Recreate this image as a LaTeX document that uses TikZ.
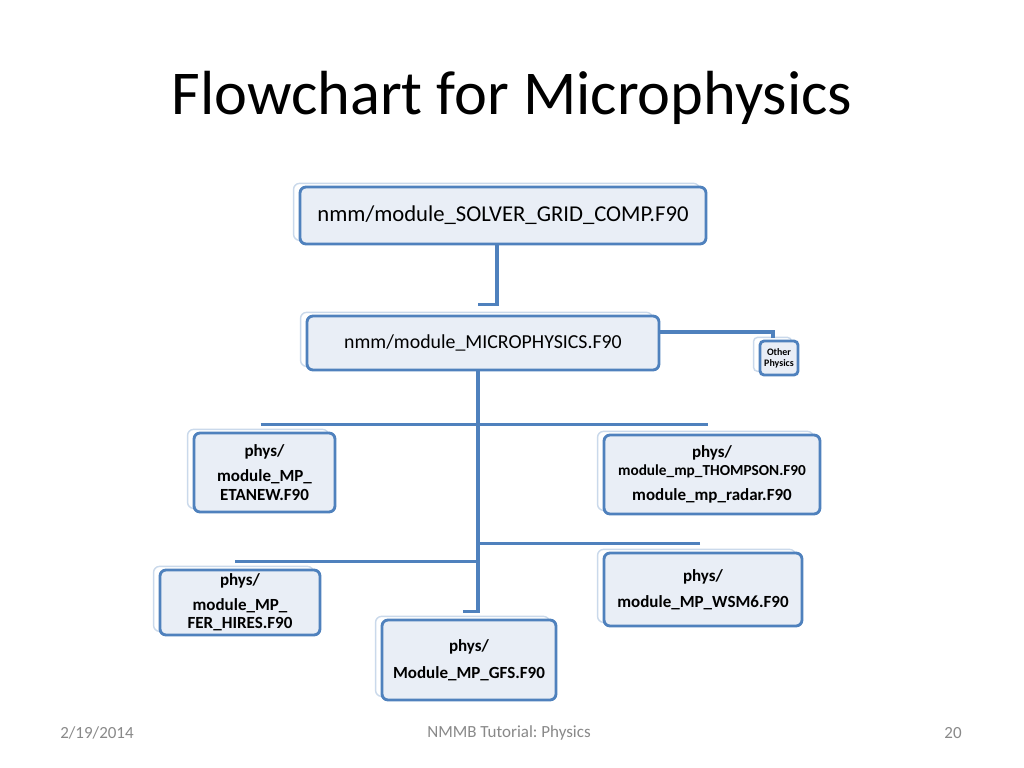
\documentclass[tikz,border=0pt]{standalone}
\usepackage{fontspec}
\setmainfont{Carlito}
\usetikzlibrary{calc,shadows}
\definecolor{boxblue}{HTML}{4F81BD}
\definecolor{boxfill}{HTML}{E9EEF6}
\definecolor{footgray}{HTML}{898989}
\begin{document}
\frenchspacing
\begin{tikzpicture}[x=0.24805mm,y=-0.24805mm,
  mbox/.style={draw=boxblue, line width=2pt, fill=boxfill, rounded corners=1.5mm,
    inner sep=0pt, align=center,
    general shadow={fill=white, draw=boxblue!30, line width=1pt,
      shadow xshift=-1.6mm, shadow yshift=0.9mm}},
  sz/.style 2 args={minimum width={#1*0.24805mm}, minimum height={#2*0.24805mm}},
  conn/.style={draw=boxblue, line width=2.3pt},
  btxt/.style={font=\fontsize{12}{13}\selectfont\bfseries},
  foottxt/.style={font=\fontsize{12}{14}\selectfont, text=footgray}]
\useasboundingbox[fill=white] (0,0) rectangle (1024,768);

\node (title) at (512,98) {\fontsize{44}{52}\selectfont Flowchart for Microphysics};

\node[mbox, sz={406}{57}, font=\fontsize{16}{19}\selectfont] (solver) at (503,215.5) {nmm/module\_SOLVER\_GRID\_COMP.F90};
\node[mbox, sz={352}{54}, font=\fontsize{14}{17}\selectfont] (micro) at (483,343) {nmm/module\_MICROPHYSICS.F90};
\node[mbox, sz={38}{34}, font=\fontsize{7}{8}\selectfont\bfseries, rounded corners=1mm] (other) at (779,358) {Other\\Physics};
\node[mbox, sz={141}{79}, btxt] (etanew) at (264.5,472.5) {phys/\\[4.5pt]module\_MP\_\\ETANEW.F90};
\node[mbox, sz={216}{79}, btxt] (thompson) at (712,474.5) {phys/\\{\fontsize{10.8}{13}\selectfont module\_mp\_THOMPSON.F90}\\[4.5pt]module\_mp\_radar.F90};
\node[mbox, sz={160}{65}, btxt] (fer) at (240,602.5) {phys/\\[4.5pt]module\_MP\_\\FER\_HIRES.F90};
\node[mbox, sz={174}{80}, btxt] (gfs) at (469,660) {phys/\\[6pt]Module\_MP\_GFS.F90};
\node[mbox, sz={198}{73}, btxt] (wsm6) at (703,589.5) {phys/\\[5pt]module\_MP\_WSM6.F90};

\coordinate (t) at ($(micro.south)+(-5,0)$);
\coordinate (e) at ($(etanew.north)+(-4,-7)$);
\coordinate (th) at ($(thompson.north)+(-4,-9)$);
\coordinate (w) at ($(wsm6.north)+(-3,-8)$);
\coordinate (f) at ($(fer.north)+(-5,-7)$);

\draw[conn] ($(solver.south)+(-6,0)$) |- ($(micro.north)+(-5,-10)$);
\draw[conn] ($(micro.east)+(0,-11)$) -| ($(other.north)+(-6,-2)$);
\draw[conn] (t) |- ($(gfs.north)+(-6,-7)$);
\draw[conn] (e) -- (th);
\draw[conn] (w) -- (t |- w);
\draw[conn] (f) -- (t |- f);

\node[foottxt] (date) at (97,733) {2/19/2014};
\node[foottxt] (foot) at (509,733) {NMMB Tutorial: Physics};
\node[foottxt] (page) at (953,733) {20};
\end{tikzpicture}
\end{document}
